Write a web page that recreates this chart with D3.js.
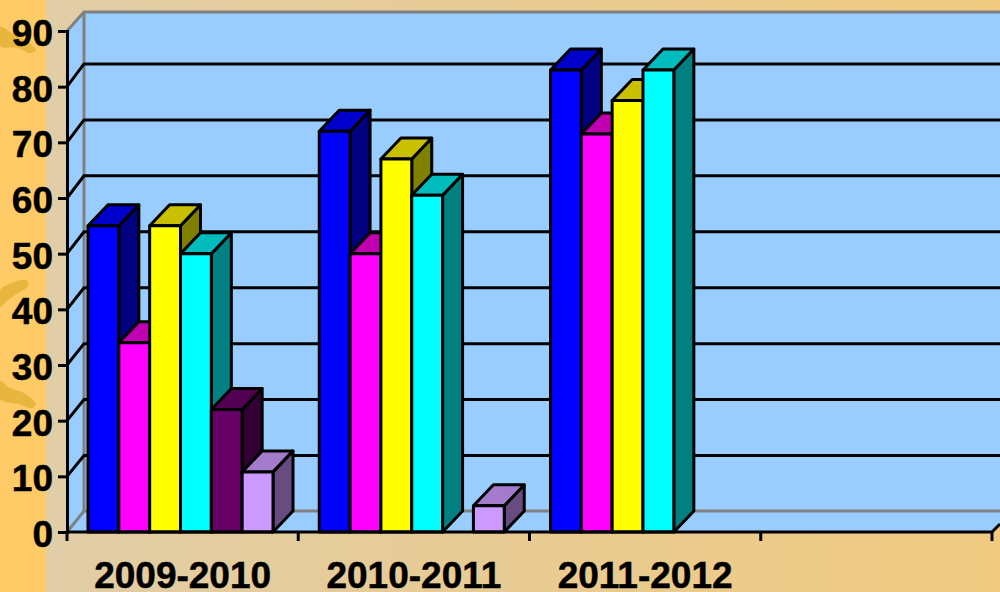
<!DOCTYPE html>
<html>
<head>
<meta charset="utf-8">
<script src="https://cdn.jsdelivr.net/npm/d3@7"></script>
<style>
    html, body { margin: 0; padding: 0; overflow: hidden; }
    svg { display: block; }
    text { font-family: "Liberation Sans", Arial, sans-serif; font-weight: bold; fill: #000; stroke: #000; stroke-width: 0.5px; }
</style>
</head>
<body>
<div id="graph"></div>
<script>
// values
const categories = ["2009-2010", "2010-2011", "2011-2012", " "];
const seriesNames = ["a", "b", "c", "d", "e", "f"];
const series_a = [55, 72, 83];
const series_b = [34, 50, 71.5];
const series_c = [55, 67, 77.5];
const series_d = [50, 60.5, 83];
const series_e = [22, 0, 0];
const series_f = [10.8, 4.7, 0];
const allSeries = [series_a, series_b, series_c, series_d, series_e, series_f];
const yTicks = [0, 10, 20, 30, 40, 50, 60, 70, 80, 90];

// front, top, side
const seriesColors = [
    ["#0000ff", "#0000cc", "#000080"],
    ["#ff00ff", "#c000b0", "#800080"],
    ["#ffff00", "#c8c000", "#808000"],
    ["#00ffff", "#00bcbc", "#008080"],
    ["#660066", "#520052", "#330033"],
    ["#cc99ff", "#a37acc", "#664c80"]
];

const width = 1000, height = 592;
const left = 67, right = 992, bottom = 532, top_ = 31;
const wall = { x: 84, top: 12, bottom: 511 };
const depth = { x: 20, y: 21 };
const lineW = 3;

const svg = d3.select("#graph").append("svg")
    .attr("width", width)
    .attr("height", height);

// Background
const defs = svg.append("defs");
const grad = defs.append("linearGradient")
    .attr("id", "bg_grad")
    .attr("x1", "0%").attr("y1", "0%")
    .attr("x2", "100%").attr("y2", "0%");
grad.append("stop").attr("offset", "0%").attr("stop-color", "#e0cda8");
grad.append("stop").attr("offset", "100%").attr("stop-color", "#f0ca80");

svg.append("rect").attr("width", width).attr("height", height).attr("fill", "url(#bg_grad)");
svg.append("rect").attr("width", 46).attr("height", height).attr("fill", "#ffcb66");

const blob = d3.line().curve(d3.curveCatmullRomClosed);
[
    [[0, 27], [12, 33], [26, 41], [36, 50], [30, 53], [18, 48], [0, 46]],
    [[0, 290], [12, 283], [26, 280], [28, 286], [18, 293], [8, 300], [0, 307]],
    [[0, 381], [10, 388], [24, 393], [36, 404], [32, 408], [18, 404], [0, 399]]
].forEach(p => {
    svg.append("path").attr("d", blob(p)).attr("fill", "#e8b63c");
});

// Scales
const x = d3.scaleBand().domain(categories).range([left, right]);
const xInner = d3.scaleBand().domain(seriesNames).range([21, 206]);
const y = d3.scaleLinear().domain([0, 90]).range([bottom, top_]);
const yWall = d3.scaleLinear().domain([0, 90]).range([wall.bottom + 0.5, 8]);

// Walls and floor
const poly = d3.line();
svg.append("rect")
    .attr("x", wall.x).attr("y", wall.top)
    .attr("width", width - wall.x).attr("height", wall.bottom - wall.top)
    .attr("fill", "#99ccff");
svg.append("path")
    .attr("d", poly([[left, top_], [wall.x, wall.top], [wall.x, wall.bottom], [left, bottom]]) + "Z")
    .attr("fill", "#99ccff");
svg.append("path")
    .attr("d", poly([[left, bottom], [wall.x, wall.bottom], [width, wall.bottom], [width, 524], [right, bottom]]) + "Z")
    .attr("fill", "#99ccff");

// Gray wall outline
svg.append("path")
    .attr("d", poly([[left, top_], [wall.x, wall.top], [width, wall.top]]))
    .attr("fill", "none").attr("stroke", "#808080").attr("stroke-width", 3);
svg.append("path")
    .attr("d", poly([[left, bottom], [wall.x, wall.bottom], [width, wall.bottom]]))
    .attr("fill", "none").attr("stroke", "#808080").attr("stroke-width", 3);
svg.append("line")
    .attr("x1", wall.x).attr("x2", wall.x)
    .attr("y1", wall.top).attr("y2", wall.bottom)
    .attr("stroke", "#808080").attr("stroke-width", 3);

// Gridlines
const gridVals = yTicks.filter(v => v > 0 && v < 90);
svg.append("g").selectAll("path")
    .data(gridVals)
    .enter()
    .append("path")
    .attr("d", v => poly([[left, y(v)], [wall.x, yWall(v)], [width, yWall(v)]]))
    .attr("fill", "none")
    .attr("stroke", "#000")
    .attr("stroke-width", lineW);

// Bars, left to right so each one covers the one before it
const barData = [];
categories.slice(0, 3).forEach((c, i) => {
    seriesNames.forEach((s, j) => {
        if (allSeries[j][i] > 0) {
            barData.push({ cat: c, name: s, value: allSeries[j][i], colors: seriesColors[j] });
        }
    });
});

const bars = svg.append("g").attr("class", "bars")
    .selectAll("g")
    .data(barData)
    .enter()
    .append("g")
    .attr("stroke", "#000")
    .attr("stroke-width", lineW)
    .attr("stroke-linejoin", "round");

bars.append("path")
    .attr("fill", d => d.colors[2])
    .attr("d", d => {
        const x1 = x(d.cat) + xInner(d.name) + xInner.bandwidth();
        return poly([[x1, bottom], [x1, y(d.value)], [x1 + depth.x, y(d.value) - depth.y], [x1 + depth.x, bottom - depth.y]]) + "Z";
    });
bars.append("path")
    .attr("fill", d => d.colors[1])
    .attr("d", d => {
        const x0 = x(d.cat) + xInner(d.name);
        const x1 = x0 + xInner.bandwidth();
        const t = y(d.value);
        return poly([[x0, t], [x0 + depth.x, t - depth.y], [x1 + depth.x, t - depth.y], [x1, t]]) + "Z";
    });
bars.append("rect")
    .attr("fill", d => d.colors[0])
    .attr("x", d => x(d.cat) + xInner(d.name))
    .attr("y", d => y(d.value))
    .attr("width", xInner.bandwidth())
    .attr("height", d => bottom - y(d.value));

// Axes
const yAxis = svg.append("g")
    .attr("transform", `translate(${left}, 0)`)
    .call(d3.axisLeft(y).tickValues(yTicks).tickSize(9).tickPadding(5));
yAxis.selectAll("line").attr("stroke", "#000").attr("stroke-width", lineW);
yAxis.select(".domain").attr("stroke", "#000").attr("stroke-width", lineW);
yAxis.selectAll("text")
    .attr("font-size", 37)
    .attr("font-family", null)
    .attr("dy", "0.39em");

const xAxis = svg.append("g")
    .attr("transform", `translate(0, ${bottom})`)
    .call(d3.axisBottom(x).tickSize(0));
xAxis.select(".domain").remove();
xAxis.selectAll("text")
    .attr("font-size", 37)
    .attr("font-family", null)
    .attr("y", 0)
    .attr("dy", 56);

svg.append("g").selectAll("line")
    .data(categories.map(c => x(c)).concat([right]))
    .enter()
    .append("line")
    .attr("x1", d => d).attr("x2", d => d)
    .attr("y1", bottom).attr("y2", bottom + 9)
    .attr("stroke", "#000").attr("stroke-width", lineW);

svg.append("path")
    .attr("d", poly([[left, bottom], [right, bottom], [width, 524]]))
    .attr("fill", "none").attr("stroke", "#000").attr("stroke-width", lineW);
</script>
</body>
</html>
